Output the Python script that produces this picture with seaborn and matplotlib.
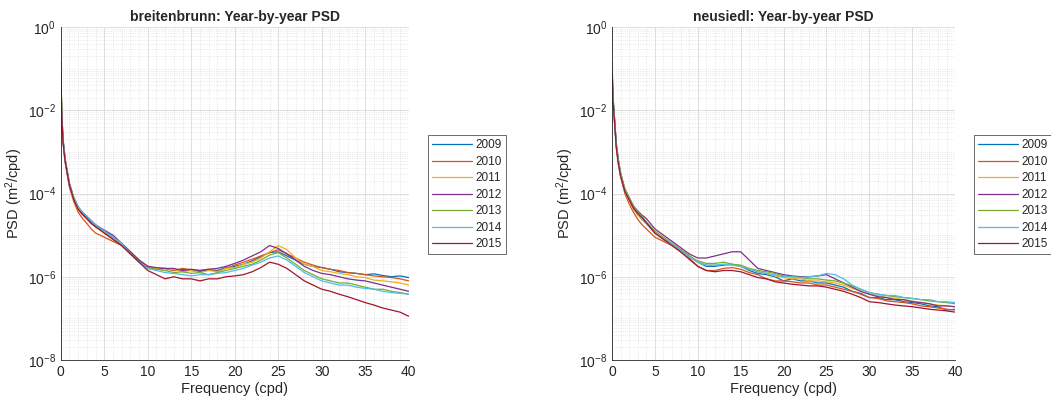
import numpy as np
import pandas as pd
import matplotlib
matplotlib.use('Agg')
import matplotlib.pyplot as plt
import matplotlib.ticker as mticker
import seaborn as sns

freq = [0.02, 0.1, 0.25, 0.5, 0.75, 1, 1.5, 2, 2.5, 3, 3.5, 4] + list(range(5, 41))
years = ['2009', '2010', '2011', '2012', '2013', '2014', '2015']

# log10 of PSD (m^2/cpd)
breit_2009 = [-1.0, -2.0, -2.7, -3.2, -3.5, -3.8, -4.12, -4.35, -4.48, -4.58, -4.68, -4.78,
              -4.9, -5.05, -5.2, -5.4, -5.6, -5.75,
              -5.8, -5.8, -5.85, -5.82, -5.85, -5.88, -5.83, -5.85, -5.78, -5.75,
              -5.7, -5.62, -5.52, -5.42, -5.4, -5.5, -5.6, -5.7, -5.75, -5.78,
              -5.82, -5.88, -5.9, -5.92, -5.95, -5.93, -5.97, -6.0, -5.98, -6.02]
breit_2010 = [-0.95, -2.05, -2.75, -3.25, -3.55, -3.85, -4.2, -4.45, -4.6, -4.72, -4.85, -4.95,
              -5.05, -5.15, -5.25, -5.45, -5.6, -5.78,
              -5.82, -5.8, -5.85, -5.8, -5.83, -5.85, -5.82, -5.88, -5.8, -5.72,
              -5.65, -5.58, -5.5, -5.42, -5.35, -5.45, -5.55, -5.65, -5.72, -5.78,
              -5.82, -5.85, -5.9, -5.92, -5.95, -5.98, -6.0, -6.02, -6.05, -6.1]
breit_2011 = [-1.0, -2.0, -2.7, -3.2, -3.5, -3.8, -4.15, -4.4, -4.52, -4.62, -4.72, -4.8,
              -4.95, -5.1, -5.2, -5.4, -5.6, -5.75,
              -5.8, -5.85, -5.82, -5.88, -5.85, -5.9, -5.85, -5.88, -5.8, -5.78,
              -5.7, -5.65, -5.55, -5.4, -5.25, -5.35, -5.55, -5.7, -5.75, -5.85,
              -5.88, -5.92, -5.95, -6.0, -6.02, -6.08, -6.1, -6.12, -6.15, -6.2]
breit_2012 = [-1.05, -1.95, -2.65, -3.15, -3.45, -3.75, -4.1, -4.32, -4.45, -4.55, -4.65, -4.75,
              -4.88, -5.0, -5.2, -5.4, -5.6, -5.75,
              -5.78, -5.8, -5.8, -5.85, -5.82, -5.85, -5.82, -5.8, -5.75, -5.68,
              -5.6, -5.5, -5.4, -5.25, -5.32, -5.45, -5.6, -5.75, -5.85, -5.92,
              -5.95, -6.0, -6.05, -6.08, -6.1, -6.15, -6.2, -6.25, -6.3, -6.35]
breit_2013 = [-0.85, -1.9, -2.7, -3.2, -3.5, -3.78, -4.1, -4.35, -4.5, -4.6, -4.7, -4.8,
              -4.92, -5.1, -5.25, -5.45, -5.65, -5.8,
              -5.82, -5.85, -5.9, -5.88, -5.92, -5.9, -5.95, -5.9, -5.85, -5.8,
              -5.75, -5.7, -5.6, -5.48, -5.42, -5.55, -5.7, -5.85, -5.95, -6.05,
              -6.1, -6.15, -6.15, -6.2, -6.25, -6.3, -6.3, -6.35, -6.38, -6.42]
breit_2014 = [-1.1, -2.05, -2.7, -3.2, -3.5, -3.8, -4.12, -4.33, -4.45, -4.55, -4.65, -4.75,
              -4.9, -5.05, -5.2, -5.45, -5.65, -5.8,
              -5.85, -5.9, -5.92, -5.95, -5.98, -5.95, -5.95, -5.92, -5.9, -5.85,
              -5.8, -5.72, -5.65, -5.55, -5.5, -5.6, -5.75, -5.9, -6.0, -6.1,
              -6.15, -6.2, -6.2, -6.25, -6.28, -6.3, -6.35, -6.38, -6.4, -6.42]
breit_2015 = [-1.1, -2.05, -2.75, -3.22, -3.52, -3.8, -4.15, -4.38, -4.5, -4.6, -4.72, -4.8,
              -4.95, -5.1, -5.25, -5.45, -5.65, -5.85,
              -5.95, -6.05, -6.0, -6.05, -6.05, -6.1, -6.05, -6.05, -6.0, -5.98,
              -5.95, -5.88, -5.78, -5.65, -5.7, -5.8, -5.95, -6.1, -6.2, -6.3,
              -6.35, -6.42, -6.48, -6.55, -6.62, -6.68, -6.75, -6.8, -6.85, -6.95]

neus_2009 = [-1.0, -1.7, -2.1, -2.85, -3.25, -3.55, -3.95, -4.15, -4.35, -4.5, -4.62, -4.72,
             -4.95, -5.1, -5.2, -5.35, -5.5, -5.65,
             -5.75, -5.75, -5.72, -5.7, -5.75, -5.85, -5.92, -5.95, -6.0, -6.1,
             -6.05, -6.1, -6.1, -6.15, -6.15, -6.2, -6.25, -6.35, -6.4, -6.5,
             -6.5, -6.55, -6.55, -6.6, -6.62, -6.65, -6.7, -6.72, -6.8, -6.78]
neus_2010 = [-0.95, -1.75, -2.15, -2.9, -3.3, -3.6, -4.0, -4.25, -4.45, -4.62, -4.75, -4.85,
             -5.05, -5.15, -5.25, -5.4, -5.55, -5.75,
             -5.85, -5.85, -5.8, -5.78, -5.82, -5.9, -5.95, -6.05, -6.1, -6.1,
             -6.12, -6.15, -6.15, -6.2, -6.2, -6.25, -6.3, -6.35, -6.42, -6.5,
             -6.52, -6.58, -6.6, -6.62, -6.65, -6.7, -6.72, -6.75, -6.78, -6.8]
neus_2011 = [-1.0, -1.7, -2.1, -2.85, -3.25, -3.55, -3.95, -4.18, -4.38, -4.52, -4.62, -4.72,
             -4.95, -5.08, -5.2, -5.35, -5.5, -5.65,
             -5.72, -5.72, -5.7, -5.72, -5.75, -5.82, -5.88, -5.92, -5.98, -6.02,
             -6.05, -6.05, -6.1, -6.1, -6.12, -6.15, -6.2, -6.28, -6.35, -6.42,
             -6.45, -6.5, -6.52, -6.55, -6.58, -6.62, -6.65, -6.68, -6.7, -6.72]
neus_2012 = [-1.05, -1.65, -2.05, -2.8, -3.2, -3.5, -3.9, -4.1, -4.3, -4.42, -4.52, -4.6,
             -4.85, -5.0, -5.15, -5.3, -5.45, -5.55,
             -5.55, -5.5, -5.45, -5.4, -5.4, -5.6, -5.8, -5.85, -5.9, -5.95,
             -5.98, -6.0, -6.0, -5.98, -5.95, -6.05, -6.15, -6.25, -6.35, -6.42,
             -6.48, -6.5, -6.55, -6.55, -6.6, -6.62, -6.65, -6.7, -6.7, -6.72]
neus_2013 = [-0.85, -1.6, -2.05, -2.8, -3.2, -3.5, -3.88, -4.1, -4.3, -4.45, -4.55, -4.68,
             -4.9, -5.05, -5.2, -5.35, -5.5, -5.62,
             -5.68, -5.68, -5.65, -5.7, -5.72, -5.8, -5.85, -5.88, -5.92, -5.98,
             -6.0, -6.02, -6.05, -6.05, -6.08, -6.1, -6.15, -6.22, -6.3, -6.38,
             -6.42, -6.45, -6.48, -6.5, -6.52, -6.55, -6.58, -6.6, -6.62, -6.65]
neus_2014 = [-1.1, -1.75, -2.15, -2.85, -3.25, -3.55, -3.95, -4.15, -4.35, -4.5, -4.62, -4.72,
             -4.95, -5.1, -5.2, -5.38, -5.52, -5.65,
             -5.72, -5.72, -5.7, -5.72, -5.75, -5.82, -5.88, -5.92, -5.95, -6.0,
             -6.0, -6.02, -6.0, -5.98, -5.92, -5.95, -6.05, -6.2, -6.3, -6.38,
             -6.42, -6.45, -6.45, -6.5, -6.52, -6.55, -6.55, -6.6, -6.6, -6.62]
neus_2015 = [-1.1, -1.75, -2.15, -2.9, -3.3, -3.58, -3.95, -4.15, -4.35, -4.48, -4.58, -4.7,
             -4.95, -5.1, -5.25, -5.4, -5.58, -5.75,
             -5.85, -5.88, -5.85, -5.85, -5.88, -5.95, -6.02, -6.05, -6.12, -6.15,
             -6.18, -6.2, -6.22, -6.22, -6.25, -6.3, -6.35, -6.42, -6.5, -6.6,
             -6.62, -6.65, -6.68, -6.7, -6.72, -6.75, -6.78, -6.8, -6.82, -6.85]

breit = [breit_2009, breit_2010, breit_2011, breit_2012, breit_2013, breit_2014, breit_2015]
neus = [neus_2009, neus_2010, neus_2011, neus_2012, neus_2013, neus_2014, neus_2015]

# MATLAB default line colours
colors = ['#0072BD', '#D95319', '#EDB120', '#7E2F8E', '#77AC30', '#4DBEEE', '#A2142F']


def to_long(series):
    rows = []
    for yr, vals in zip(years, series):
        for f, v in zip(freq, vals):
            rows.append({'freq': f, 'psd': 10.0 ** v, 'year': yr})
    return pd.DataFrame(rows)


sns.set_style('white')
plt.rcParams['font.family'] = ['Liberation Sans', 'DejaVu Sans']
plt.rcParams['mathtext.default'] = 'regular'

fig = plt.figure(figsize=(10.51, 4.03), dpi=100)
ax1 = fig.add_axes([0.0578, 0.1067, 0.3311, 0.8263])
ax2 = fig.add_axes([0.5823, 0.1067, 0.3265, 0.8263])

for ax, series, name in [(ax1, breit, 'breitenbrunn'), (ax2, neus, 'neusiedl')]:
    df = to_long(series)
    sns.lineplot(data=df, x='freq', y='psd', hue='year', palette=colors,
                 linewidth=0.9, ax=ax)
    ax.set_yscale('log')
    ax.set_xlim(0, 40)
    ax.set_ylim(1e-8, 1)
    ax.xaxis.set_major_locator(mticker.MultipleLocator(5))
    ax.xaxis.set_minor_locator(mticker.MultipleLocator(1))
    ax.yaxis.set_major_locator(mticker.FixedLocator([1e-8, 1e-6, 1e-4, 1e-2, 1]))
    ax.yaxis.set_major_formatter(mticker.LogFormatterMathtext())
    ax.yaxis.set_minor_locator(mticker.LogLocator(base=10, subs=np.arange(1, 10), numticks=20))
    ax.yaxis.set_minor_formatter(mticker.NullFormatter())
    ax.grid(which='major', color='#d9d9d9', linewidth=0.6, linestyle='-')
    ax.grid(which='minor', color='#d9d9d9', linewidth=0.5, linestyle=':')
    ax.set_axisbelow(True)
    for s in ['top', 'right']:
        ax.spines[s].set_visible(False)
    for s in ['left', 'bottom']:
        ax.spines[s].set_color('#262626')
        ax.spines[s].set_linewidth(0.6)
    ax.tick_params(which='both', direction='in', colors='#262626', labelsize=10,
                   width=0.6)
    ax.tick_params(which='major', length=3.5)
    ax.tick_params(which='minor', length=2)
    ax.set_title(f'{name}: Year-by-year PSD', fontsize=10, fontweight='bold', pad=4)
    ax.set_xlabel('Frequency (cpd)', fontsize=10.5, color='#262626', labelpad=2)
    ax.set_ylabel('PSD (m$^2$/cpd)', fontsize=10.5, color='#262626', labelpad=2)
    leg = ax.legend(loc='upper left', bbox_to_anchor=(1.055, 0.675), borderaxespad=0,
                    fontsize=8.5, handlelength=3.4, labelspacing=0.38, fancybox=False,
                    frameon=True, edgecolor='#262626', borderpad=0.35, handletextpad=0.25)
    leg.get_frame().set_linewidth(0.6)
    for line in leg.get_lines():
        line.set_linewidth(0.9)

fig.savefig('out.png', dpi=100)
